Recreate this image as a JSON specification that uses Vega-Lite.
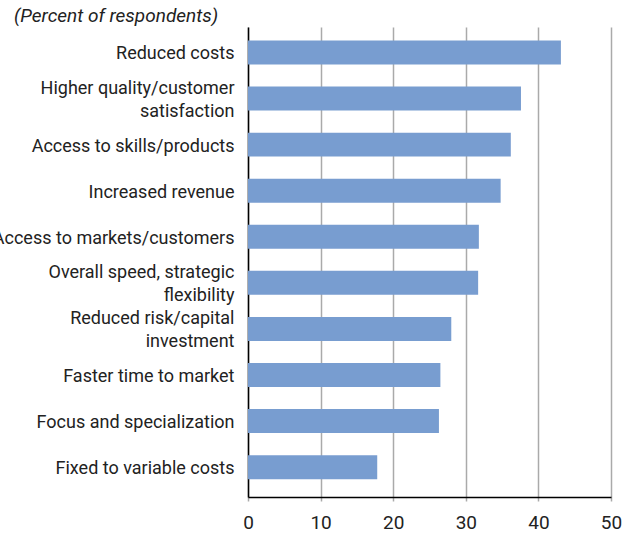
{
  "$schema": "https://vega.github.io/schema/vega-lite/v6.json",
  "width": 363,
  "height": 470,
  "autosize": {"type": "none"},
  "padding": {"left": 248, "top": 27, "right": 24, "bottom": 41},
  "background": "white",
  "config": {
    "view": {"stroke": null},
    "font": "Roboto"
  },
  "title": {
    "text": "(Percent of respondents)",
    "anchor": "start",
    "frame": "group",
    "dx": -234,
    "offset": 1,
    "font": "Roboto",
    "fontSize": 19,
    "fontStyle": "italic",
    "fontWeight": "normal",
    "color": "#222"
  },
  "data": {
    "values": [
      {"label": "Reduced costs", "value": 43.1},
      {"label": "Higher quality/customer|satisfaction", "value": 37.6},
      {"label": "Access to skills/products", "value": 36.2},
      {"label": "Increased revenue", "value": 34.8},
      {"label": "Access to markets/customers", "value": 31.8},
      {"label": "Overall speed, strategic|flexibility", "value": 31.7},
      {"label": "Reduced risk/capital|investment", "value": 28.0},
      {"label": "Faster time to market", "value": 26.5},
      {"label": "Focus and specialization", "value": 26.3},
      {"label": "Fixed to variable costs", "value": 17.8}
    ]
  },
  "mark": {"type": "bar", "color": "#789dd0"},
  "encoding": {
    "y": {
      "field": "label",
      "type": "nominal",
      "sort": null,
      "scale": {"paddingInner": 0.48, "paddingOuter": 0.34, "align": 0.43},
      "axis": {
        "title": null,
        "ticks": false,
        "domainColor": "#000",
        "domainWidth": 1.5,
        "labelExpr": "split(datum.value, '|')",
        "labelOffset": {"expr": "indexof(datum.value, '|') >= 0 ? -10 : 2"},
        "labelFont": "Roboto",
        "labelFontSize": 18,
        "labelColor": "#222",
        "labelPadding": 14,
        "labelLineHeight": 23,
        "labelLimit": 400,
        "grid": false
      }
    },
    "x": {
      "field": "value",
      "type": "quantitative",
      "scale": {"domain": [0, 50], "nice": false},
      "axis": {
        "title": null,
        "values": [0, 10, 20, 30, 40, 50],
        "grid": true,
        "gridColor": "#aaaaaa",
        "gridWidth": 1.5,
        "gridOpacity": 1,
        "domainColor": "#000",
        "domainWidth": 1.5,
        "tickColor": "#aaaaaa",
        "tickWidth": 1.5,
        "tickSize": 4,
        "labelFont": "Roboto",
        "labelFontSize": 19,
        "labelColor": "#222",
        "labelPadding": 12,
        "labelFlush": false
      }
    }
  }
}
